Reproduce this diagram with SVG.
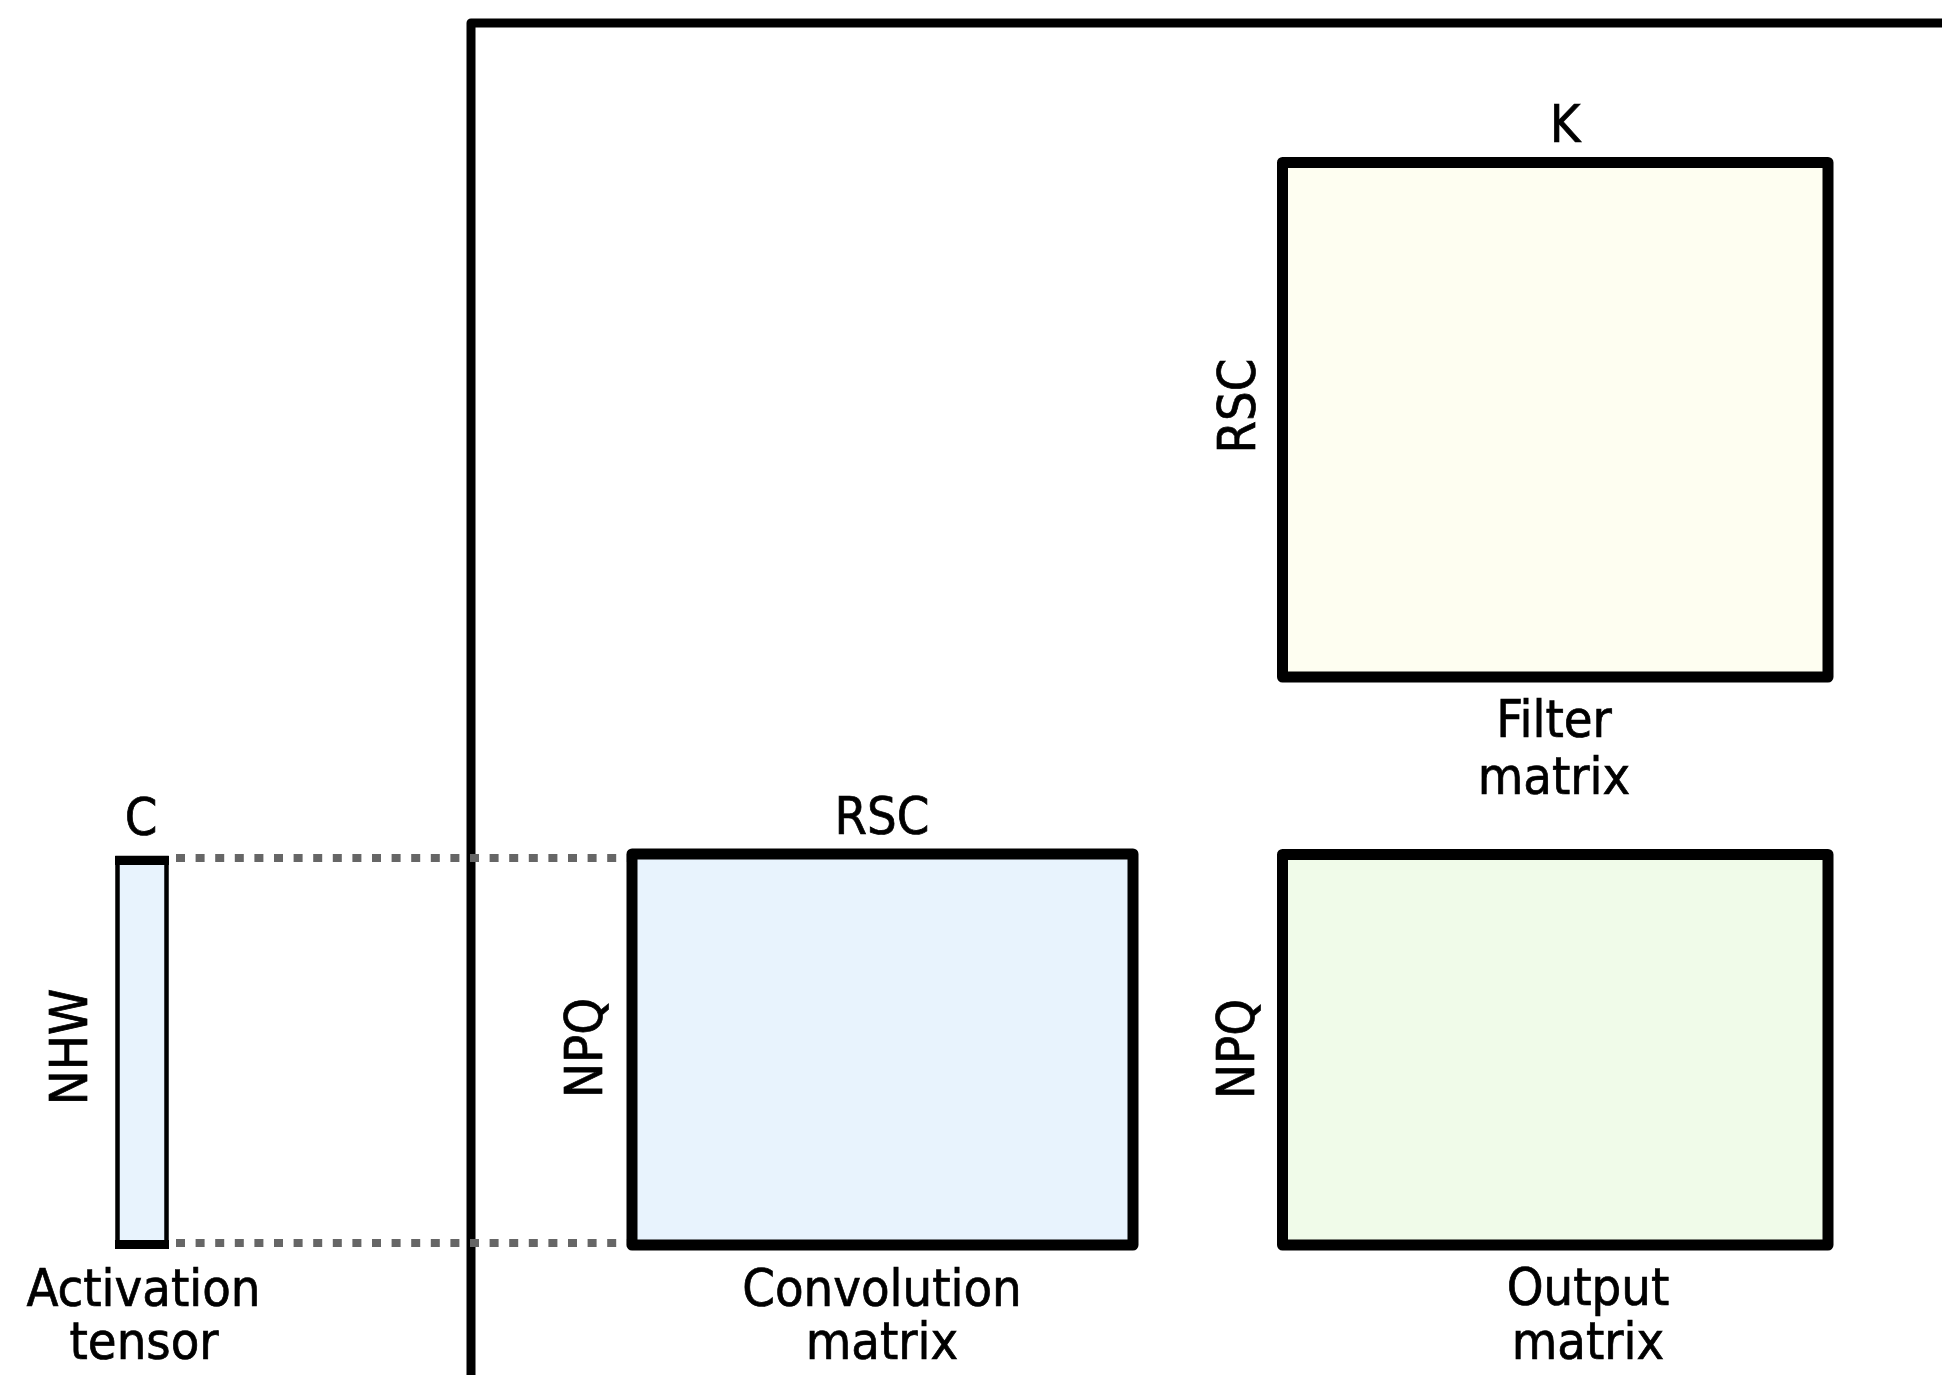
<svg xmlns="http://www.w3.org/2000/svg" width="1942" height="1375" viewBox="0 0 1942 1375">
<style>
  .lbl { font-family: 'DejaVu Sans Condensed', 'DejaVu Sans', sans-serif; font-stretch: condensed; font-size: 52px; fill: #000; stroke: #000; stroke-width: 0.7; text-anchor: middle; }
  .mat { stroke: #000; stroke-width: 11; stroke-linejoin: round; }
  .dot { stroke: #666; stroke-width: 8; stroke-dasharray: 9 10.6; fill: none; }
</style>
<rect width="1942" height="1375" fill="#fff"/>
<g id="frame">
  <path d="M471,1380 V23 H1950" fill="none" stroke="#000" stroke-width="9" stroke-linejoin="round"/>
</g>
<g id="connectors">
  <line class="dot" x1="176" y1="858" x2="630" y2="858"/>
  <line class="dot" x1="176" y1="1243" x2="630" y2="1243"/>
</g>
<g id="activation-tensor">
  <rect x="117.5" y="858" width="49" height="387" fill="#E8F3FD" stroke="#000" stroke-width="4.5"/>
  <line x1="115" y1="860.5" x2="169" y2="860.5" stroke="#000" stroke-width="9"/>
  <line x1="115" y1="1244.5" x2="169" y2="1244.5" stroke="#000" stroke-width="9"/>
  <text class="lbl" x="141" y="835">C</text>
  <text class="lbl" transform="translate(87,1047) rotate(-90)">NHW</text>
  <text class="lbl"><tspan x="143.5" y="1306">Activation</tspan><tspan x="144" y="1359">tensor</tspan></text>
</g>
<g id="convolution-matrix">
  <rect class="mat" x="632" y="854" width="501" height="391" fill="#E8F3FD"/>
  <text class="lbl" x="882" y="834">RSC</text>
  <text class="lbl" transform="translate(602,1048) rotate(-90)">NPQ</text>
  <text class="lbl"><tspan x="882" y="1306">Convolution</tspan><tspan x="882" y="1359">matrix</tspan></text>
</g>
<g id="filter-matrix">
  <rect class="mat" x="1282.5" y="162.5" width="545.5" height="514.5" fill="#FEFEF1"/>
  <text class="lbl" x="1565" y="142">K</text>
  <text class="lbl" transform="translate(1255,406) rotate(-90)">RSC</text>
  <text class="lbl"><tspan x="1554" y="737">Filter</tspan><tspan x="1554" y="794">matrix</tspan></text>
</g>
<g id="output-matrix">
  <rect class="mat" x="1282.5" y="854.5" width="545.5" height="390.5" fill="#F0FBE9"/>
  <text class="lbl" transform="translate(1254,1049) rotate(-90)">NPQ</text>
  <text class="lbl"><tspan x="1588" y="1305">Output</tspan><tspan x="1588" y="1359">matrix</tspan></text>
</g>
</svg>
